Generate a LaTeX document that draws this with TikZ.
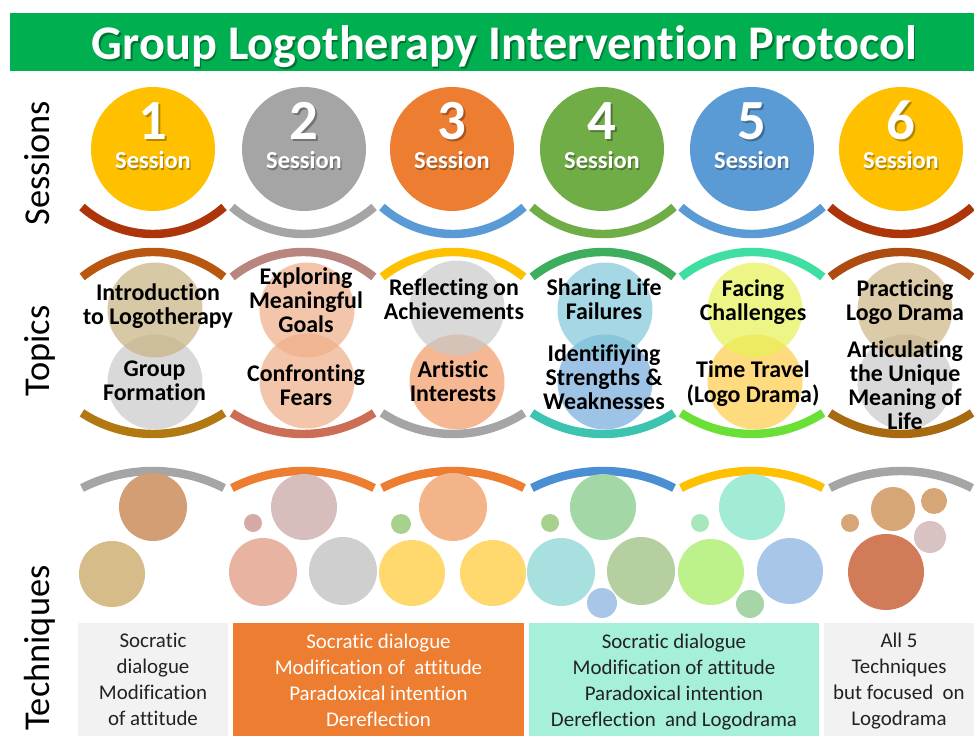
\documentclass[tikz,border=0pt]{standalone}
\usepackage{fontspec}
\setmainfont{Carlito}[Ligatures={NoCommon}, RawFeature={-liga;-clig}]
\definecolor{banner}{HTML}{00B050}
\definecolor{cyellow}{HTML}{FFC000}
\definecolor{cgray}{HTML}{A5A5A5}
\definecolor{corange}{HTML}{ED7D31}
\definecolor{cgreen}{HTML}{70AD47}
\definecolor{cblue}{HTML}{5B9BD5}
\definecolor{crust}{HTML}{AC360A}
% topic bands
\definecolor{tbA}{HTML}{B9560F}
\definecolor{tbB}{HTML}{B8867F}
\definecolor{tbC}{HTML}{FFC000}
\definecolor{tbD}{HTML}{3DAD5E}
\definecolor{tbE}{HTML}{3EDFA0}
\definecolor{tbF}{HTML}{AD4B10}
\definecolor{bbA}{HTML}{B27811}
\definecolor{bbB}{HTML}{CC6E56}
\definecolor{bbC}{HTML}{A5A5A5}
\definecolor{bbD}{HTML}{3CC4B0}
\definecolor{bbE}{HTML}{6AE036}
\definecolor{bbF}{HTML}{A86A10}
\definecolor{qbD}{HTML}{4A8ED4}
% topic discs
\definecolor{dTan}{HTML}{C7B281}
\definecolor{dGray}{HTML}{C9C9C9}
\definecolor{dPeach}{HTML}{EFAE88}
\definecolor{dPeachB}{HTML}{F19B66}
\definecolor{dCyan}{HTML}{81C7DB}
\definecolor{dBlue}{HTML}{74ACDE}
\definecolor{dLime}{HTML}{E7F155}
\definecolor{dGold}{HTML}{FFCD4A}
\definecolor{dTanB}{HTML}{CDB584}
% technique bubbles
\definecolor{bBrown}{HTML}{D39E74}
\definecolor{bKhaki}{HTML}{D5BC89}
\definecolor{bRose}{HTML}{D7BDBB}
\definecolor{bRoseS}{HTML}{D4A9A6}
\definecolor{bSalmon}{HTML}{E9B3A1}
\definecolor{bSilver}{HTML}{CFCFCF}
\definecolor{bSage}{HTML}{A9D18E}
\definecolor{bApricot}{HTML}{F4B48A}
\definecolor{bButter}{HTML}{FFD96E}
\definecolor{bMoss}{HTML}{A3D8A6}
\definecolor{bAqua}{HTML}{A8E0E0}
\definecolor{bOlive}{HTML}{B5CFA0}
\definecolor{bSky}{HTML}{A8C6E8}
\definecolor{bMint}{HTML}{A2EBD6}
\definecolor{bMintS}{HTML}{A6E8BA}
\definecolor{bLime}{HTML}{BDF18C}
\definecolor{bLeaf}{HTML}{A6D6A8}
\definecolor{bCamel}{HTML}{D6A676}
\definecolor{bMauve}{HTML}{D9C2C2}
\definecolor{bBrick}{HTML}{D27B59}
\definecolor{pLight}{HTML}{F2F2F2}
\definecolor{pMint}{HTML}{A6EFD9}
\definecolor{inkdark}{HTML}{222222}

% one block of centred lines, each placed on its own baseline
\newcommand\tlines[6]{%
  \foreach \ln [count=\k] in {#6} {%
    \node[#2] (#1-\k) at (#3,{#4+(\k-1)*#5}) {\ln};}}
% a thick circular band: colour, centre x, centre y, radius, from angle, to angle
\newcommand\band[6]{%
  \draw[bandline, draw=#1] plot[domain=#5:#6, samples=40]
    ({#2+#4*cos(\x)},{#3+#4*sin(\x)});}

\begin{document}
\begin{tikzpicture}[x=0.02cm,y=-0.02cm,
  bandline/.style={line width=4.8pt},
  sidelabel/.style={font=\fontsize{20.7}{24}\selectfont, rotate=90, anchor=base, text=black, inner sep=0},
  titletext/.style={font=\fontsize{27.5}{30}\selectfont\bfseries, anchor=base, inner sep=0},
  numtext/.style={font=\fontsize{32.3}{36}\selectfont\bfseries, anchor=base, inner sep=0},
  sestext/.style={font=\fontsize{13.9}{16}\selectfont\bfseries, anchor=base, inner sep=0},
  topictext/.style={font=\fontsize{13.6}{16}\selectfont\bfseries, anchor=base, inner sep=0, text=black},
  boxtext/.style={font=\fontsize{11.9}{14}\selectfont, anchor=base, inner sep=0},
  sesscircle/.style={circle, minimum size=2.48cm, inner sep=0, outer sep=0},
  topiccircle/.style={circle, minimum size=1.9cm, inner sep=0, fill opacity=0.7},
  bubble/.style={circle, inner sep=0, outer sep=0},
  panel/.style={rectangle, anchor=north west, inner sep=0, outer sep=0, minimum height=2.26cm}
]
\fill[white] (0,0) rectangle (974,736);
\useasboundingbox (0,0) rectangle (974,736);

% title banner
\node[rectangle, fill=banner, anchor=north west, inner sep=0, minimum width=19.28cm, minimum height=1.16cm] (banner) at (10,13) {};
\node[titletext, text=black, opacity=0.35] (title-sh) at (506,61.5) {Group Logotherapy Intervention Protocol};
\node[titletext, text=white] (title) at (504.5,60) {Group Logotherapy Intervention Protocol};

% row labels
\node[sidelabel] (lab-ses) at (50,163) {Sessions};
\node[sidelabel] (lab-top) at (50,351) {Topics};
\node[sidelabel] (lab-tec) at (50,648) {Techniques};

% sessions
\foreach \i/\cx/\col in {1/153/cyellow, 2/304/cgray, 3/452/corange, 4/602/cgreen, 5/752/cblue, 6/901/cyellow} {
  \node[sesscircle, fill=\col] (ses\i) at (\cx,149) {};
  \node[numtext, text=black, opacity=0.3] (num\i-sh) at ({\cx+1.5},141.5) {\i};
  \node[numtext, text=white] (num\i) at (\cx,140) {\i};
  \node[sestext, text=black, opacity=0.3] (word\i-sh) at ({\cx+1.2},170.2) {Session};
  \node[sestext, text=white] (word\i) at (\cx,169) {Session};
}
\foreach \cx/\col in {153/crust, 303/cgray, 453/cblue, 603/cgreen, 752/cblue, 901/crust}
  {\band{\col}{\cx}{127}{107}{48.4}{131.6}}

% topics
\foreach \cx/\col in {153/tbA, 303/tbB, 453/tbC, 603/tbD, 752/tbE, 901/tbF}
  {\band{\col}{\cx}{365}{113}{231.2}{308.8}}
\foreach \cx/\col in {153/bbA, 303/bbB, 453/bbC, 603/bbD, 752/bbE, 901/bbF}
  {\band{\col}{\cx}{303.5}{130.5}{57}{123}}

\node[topiccircle, fill=dGray]   (tc1b) at (155,382) {};
\node[topiccircle, fill=dTan]    (tc1a) at (155,310) {};
\node[topiccircle, fill=dPeach]  (tc2b) at (307,381) {};
\node[topiccircle, fill=dPeach]  (tc2a) at (307,310) {};
\node[topiccircle, fill=dPeachB] (tc3b) at (457,382) {};
\node[topiccircle, fill=dGray]   (tc3a) at (457,308) {};
\node[topiccircle, fill=dBlue]   (tc4b) at (605,382) {};
\node[topiccircle, fill=dCyan]   (tc4a) at (605,310) {};
\node[topiccircle, fill=dGold]   (tc5b) at (755,382) {};
\node[topiccircle, fill=dLime]   (tc5a) at (755,310) {};
\node[topiccircle, fill=dGray]   (tc6b) at (905,382) {};
\node[topiccircle, fill=dTanB]   (tc6a) at (905,310) {};

\tlines{t1a}{topictext}{158}{301}{23.5}{Introduction, to Logotherapy}
\tlines{t1b}{topictext}{154.5}{377}{24}{Group, Formation}
\tlines{t2a}{topictext}{306}{285}{24}{Exploring, Meaningful, Goals}
\tlines{t2b}{topictext}{306}{382}{23.5}{Confronting, Fears}
\tlines{t3a}{topictext}{454}{295.5}{24.5}{Reflecting on, Achievements}
\tlines{t3b}{topictext}{453}{378}{24}{Artistic, Interests}
\tlines{t4a}{topictext}{604}{296}{24}{Sharing Life, Failures}
\tlines{t4b}{topictext}{604}{362}{24}{Identifiying, Strengths \&, Weaknesses}
\tlines{t5a}{topictext}{753}{297}{23.5}{Facing, Challenges}
\tlines{t5b}{topictext}{753}{378}{25}{Time Travel, {(Logo Drama)}}
\tlines{t6a}{topictext}{905}{297}{23.5}{Practicing, Logo Drama}
\tlines{t6b}{topictext}{905}{358}{24}{Articulating, the Unique, Meaning of, Life}

% techniques
\foreach \cx/\col in {153/cgray, 303/corange, 453/corange, 603/qbD, 752/cyellow, 901/cgray}
  {\band{\col}{\cx}{628}{157}{243.1}{296.9}}

\node[bubble, fill=bBrown,   minimum size=1.36cm] (q1a) at (153,507) {};
\node[bubble, fill=bKhaki,   minimum size=1.32cm] (q1b) at (112,574) {};
\node[bubble, fill=bRoseS,   minimum size=0.36cm] (q2a) at (253,523) {};
\node[bubble, fill=bRose,    minimum size=1.32cm] (q2b) at (304,507) {};
\node[bubble, fill=bSalmon,  minimum size=1.36cm] (q2c) at (263,572) {};
\node[bubble, fill=bSilver,  minimum size=1.36cm] (q2d) at (343,571) {};
\node[bubble, fill=bSage,    minimum size=0.40cm] (q3a) at (401,524) {};
\node[bubble, fill=bApricot, minimum size=1.36cm] (q3b) at (453,507) {};
\node[bubble, fill=bButter,  minimum size=1.32cm] (q3c) at (412,573) {};
\node[bubble, fill=bButter,  minimum size=1.32cm] (q3d) at (493,573) {};
\node[bubble, fill=bSage,    minimum size=0.36cm] (q4a) at (550,523) {};
\node[bubble, fill=bMoss,    minimum size=1.32cm] (q4b) at (603,507) {};
\node[bubble, fill=bAqua,    minimum size=1.36cm] (q4c) at (561,572) {};
\node[bubble, fill=bOlive,   minimum size=1.36cm] (q4d) at (641,571) {};
\node[bubble, fill=bSky,     minimum size=0.60cm] (q4e) at (602,603) {};
\node[bubble, fill=bMintS,   minimum size=0.36cm] (q5a) at (700,523) {};
\node[bubble, fill=bMint,    minimum size=1.32cm] (q5b) at (752,507) {};
\node[bubble, fill=bLime,    minimum size=1.32cm] (q5c) at (711,572) {};
\node[bubble, fill=bSky,     minimum size=1.32cm] (q5d) at (790,571) {};
\node[bubble, fill=bLeaf,    minimum size=0.56cm] (q5e) at (750,604) {};
\node[bubble, fill=bCamel,   minimum size=0.88cm] (q6a) at (893,509) {};
\node[bubble, fill=bCamel,   minimum size=0.52cm] (q6b) at (934,501) {};
\node[bubble, fill=bCamel,   minimum size=0.36cm] (q6c) at (850,523) {};
\node[bubble, fill=bMauve,   minimum size=0.64cm] (q6d) at (930,537) {};
\node[bubble, fill=bBrick,   minimum size=1.52cm] (q6e) at (886,572) {};

% technique panels
\node[panel, fill=pLight,  minimum width=3.00cm] (p1) at (78,623) {};
\node[panel, fill=corange, minimum width=5.82cm] (p2) at (233,623) {};
\node[panel, fill=pMint,   minimum width=5.80cm] (p3) at (529,623) {};
\node[panel, fill=pLight,  minimum width=3.00cm] (p4) at (824,623) {};

\tlines{k1}{boxtext, text=inkdark}{153}{647}{26}{Socratic, dialogue, Modification, of attitude}
\tlines{k2}{boxtext, text=white}{378.5}{648}{26}{Socratic dialogue, Modification of\ \ attitude, Paradoxical intention, Dereflection}
\tlines{k3}{boxtext, text=inkdark}{674}{648}{26}{Socratic dialogue, Modification of attitude, Paradoxical intention, Dereflection\ \ and Logodrama}
\tlines{k4}{boxtext, text=inkdark}{899}{647}{26}{All 5, Techniques, but focused\ \ on, Logodrama}
\end{tikzpicture}
\end{document}
